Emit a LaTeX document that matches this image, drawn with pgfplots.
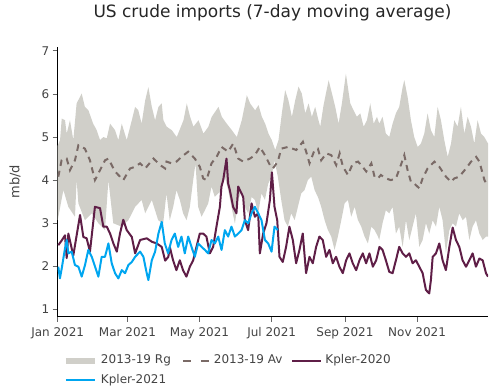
\documentclass[border=0pt]{standalone}
\usepackage{pgfplots}
\pgfplotsset{compat=1.18}
\usepackage{fontspec}
\setmainfont{DejaVu Sans}
\definecolor{bandgrey}{HTML}{D0CFC9}
\definecolor{avgcol}{HTML}{7A6A66}
\definecolor{k20}{HTML}{5F1E47}
\definecolor{k21}{HTML}{00A6F0}
\definecolor{txt}{HTML}{444444}
\begin{document}
\begin{tikzpicture}
\path (0bp,0bp) rectangle (493bp,391bp);
\begin{axis}[
  at={(57.7bp,74.3bp)}, anchor=south west,
  scale only axis, width=430.3bp, height=269.7bp,
  xmin=0, xmax=364, ymin=0.83, ymax=7.09,
  axis lines*=left,
  axis line style={black, line width=0.9bp},
  tick align=outside, major tick length=5bp,
  tick style={color=black!60, line width=0.8bp},
  xtick={0,59,120,181,243,304},
  xticklabels={Jan 2021,Mar 2021,May 2021,Jul 2021,Sep 2021,Nov 2021},
  ytick={1,2,3,4,5,6,7},
  /pgf/number format/assume math mode=true,
  ticklabel style={font=\fontsize{12bp}{14bp}\selectfont, text=txt},
  xticklabel style={yshift=-2bp},
  ylabel={mb/d},
  ylabel style={at={(axis description cs:-0.0992,0.5)}, anchor=center, font=\fontsize{13bp}{15bp}\selectfont, text=txt},
  legend columns=3,
  legend image code/.code={\draw[#1] (0bp,0bp) -- (29bp,0bp);},
  legend style={at={(axis description cs:0.0123,-0.142)}, anchor=north west, draw=none, fill=none,
    inner sep=0pt, outer sep=0pt, row sep=7.5bp,
    font=\fontsize{12bp}{14bp}\selectfont, text=txt,
    nodes={inner sep=0pt, text height=9bp, text depth=3bp},
    /tikz/every odd column/.append style={column sep=3bp},
    /tikz/every even column/.append style={column sep=9bp}},
  legend cell align=left,
]
% 2013-19 range: upper edge left to right, then lower edge right to left
\addplot[fill=bandgrey, draw=none, forget plot] table {
0 4.80
2 4.93
3.4 5.43
6.2 5.39
7.6 5.08
10.4 5.39
13.2 4.93
16 5.78
20.3 6.01
23 5.70
26 5.62
30 5.31
33 5.16
35.8 4.93
38.6 5.00
41.5 4.97
44.3 5.31
48.5 5.16
51.3 4.93
54.2 5.31
58.4 4.93
62.7 5.39
65.5 5.70
68.2 5.62
71 5.31
74 5.85
76.7 6.16
79.6 5.70
82.4 5.39
85.2 5.70
88 5.78
89.4 5.39
92.2 5.24
96.5 5.16
100.7 5.00
106.4 5.39
109.2 5.78
112 5.47
114.8 5.24
119.1 5.39
123.3 5.08
127.5 5.24
130.3 5.47
136 5.70
138.8 5.47
143 5.31
147.3 5.16
151.5 5.00
155.7 5.39
160 5.97
162.8 5.78
167 5.62
169.9 5.74
172.7 5.47
175.5 5.31
178.3 5.08
181.1 4.93
184 4.70
186.8 4.93
189.6 5.55
192.4 6.09
195.2 5.85
198.1 5.47
200.9 5.85
203.7 6.17
206.5 6.01
209.4 5.55
212.2 5.78
215 5.47
217.8 5.70
220.6 5.39
222.1 5.24
224.9 5.74
229.2 6.32
232 6.01
234.8 5.70
237.6 5.31
240.4 5.78
243.8 6.47
247.5 5.78
250.3 5.62
253.1 5.47
256 5.55
258.8 5.24
261.6 5.39
264.4 5.78
267.3 5.31
270.1 5.47
272 5.31
274.8 5.47
277.6 5.08
280.5 5.00
283.3 5.31
286.1 5.55
288.9 5.70
291.8 6.16
293.2 6.32
296 5.93
298.8 5.39
301.6 5.00
304.5 4.77
307.3 4.85
310.1 5.08
312.9 5.55
315.7 5.16
318.6 5.00
321.4 5.70
324.2 5.39
327 4.93
329.9 4.54
332.7 4.85
335.5 5.39
338.3 5.24
341.1 5.70
344 5.08
346.8 5.47
349.6 5.24
352.4 4.85
355.2 5.39
358.1 5.08
360.9 5.00
364 4.85
364 2.69
362.3 2.69
359.5 2.61
356.7 2.76
353.8 3.07
351 2.92
348.2 2.61
345.4 3.15
342.5 3.07
339.7 3.23
336.9 2.92
334.1 3.00
331.3 2.84
328.4 2.30
325.6 3.07
322.8 3.38
320 2.92
317.2 3.07
314.3 2.76
311.5 3.00
308.7 2.61
305.9 2.45
303 3.23
300.2 2.92
297.4 2.61
294.6 3.07
291.8 2.45
288.9 2.92
286.1 2.76
283.3 3.38
280.5 3.23
277.6 3.30
274.8 3.00
272 2.61
270.9 2.69
268.1 2.84
265.3 2.92
262.4 2.53
259.6 2.69
256.8 2.92
254 3.07
251.2 3.38
248.3 3.15
245.5 3.54
242.7 3.46
239.9 3.07
237 2.69
234.2 2.38
231.4 2.69
228.6 2.84
225.8 3.07
222.9 3.38
220.1 3.61
217.3 3.77
214.5 4.08
211.6 4.00
208.8 3.77
206 3.69
203.2 3.38
200.4 3.07
197.5 3.23
194.7 2.92
191.9 3.07
189.1 3.54
186.2 4.08
183.4 4.46
180.9 4.08
178.1 3.92
175.3 3.54
172.4 3.69
169.6 3.23
166.8 3.54
164 3.61
161.2 3.23
158.3 3.38
155.5 3.77
152.7 3.54
149.9 2.99
147 3.38
144.2 3.77
141.4 4.08
138.6 3.77
135.8 3.69
132.9 3.61
130.1 3.85
127.3 3.46
124.5 3.30
121.7 3.15
118.8 3.38
116.6 4.39
114.6 4.00
111.8 3.38
109 3.07
106.1 3.23
103.3 3.54
100.5 3.77
97.7 3.38
94.8 3.07
92 3.69
89.2 2.99
85 3.07
79.6 3.54
74 3.23
71 3.54
65.5 3.38
59.8 3.07
54 2.92
47 3.00
42.9 4.00
40 2.84
34.4 3.00
28.8 3.23
23 3.07
17.5 3.46
16 4.00
14.6 3.15
9 3.38
4.8 3.77
0 3.07
};

% 2013-19 average
\addplot[avgcol, line width=2bp, dash pattern=on 6bp off 5bp, forget plot] table {
0.5 4.08
3.3 4.46
7.6 4.50
10.4 4.23
14.6 4.46
17.5 4.81
23 4.73
27.3 4.46
31.5 4.00
35.8 4.23
40 4.46
42.9 4.50
48.5 4.20
55.5 4.00
61.2 4.27
65.5 4.31
69.7 4.39
74 4.27
81 4.50
86.6 4.35
90.9 4.27
92 4.43
96.3 4.39
100.5 4.43
104.7 4.54
110.4 4.66
116 4.50
120.2 4.31
123.1 4.04
125.9 4.00
130.1 4.39
134.4 4.54
138.6 4.77
144.2 4.66
148.5 4.85
152.7 4.50
156.9 4.43
162.6 4.50
166.8 4.58
171 4.77
175.3 4.58
179.5 4.35
182 4.27
186.2 4.43
189.1 4.73
194.7 4.77
201.8 4.70
207.4 4.89
210.2 4.66
213 4.39
217.3 4.70
220.1 4.73
222.9 4.46
227.2 4.62
231.4 4.58
235.6 4.35
238.5 4.62
241.3 4.31
245.5 4.12
249.7 4.39
254 4.43
256.8 4.35
261 4.20
265.3 4.39
268.1 4.07
270.9 4.04
273.4 4.12
277.6 4.04
281.9 4.00
286.1 4.04
290.3 4.35
293.2 4.58
296 4.23
298.8 3.96
301.6 3.92
305.9 3.81
308.7 4.04
312.9 4.27
318.6 4.43
322.8 4.31
328.4 4.08
332.7 3.96
335.5 4.04
339.7 4.08
345.4 4.27
349.7 4.43
354 4.54
356.7 4.43
361 4.00
363.7 3.85
};

% Kpler-2020
\addplot[k20, line width=2bp, line join=round, forget plot] table {
0.5 2.49
3.4 2.60
6.2 2.72
7.6 2.19
9 2.76
13.2 2.25
18.9 3.19
21.7 2.68
24.5 2.65
27.3 2.34
31.5 3.38
35.8 3.35
38.6 2.92
41.5 2.92
44.3 2.76
47.1 2.53
50 2.34
52.7 2.76
55.5 3.08
58.4 2.84
62.7 2.68
65.5 2.30
69.7 2.61
75.3 2.65
79.6 2.57
83.8 2.53
88 2.45
90.9 2.13
93.6 2.22
94.8 2.45
97.6 2.14
100.4 1.91
103.3 2.14
106 1.91
108.9 1.76
111.8 1.99
114.6 2.14
117.4 2.45
120.2 2.76
123 2.76
125.8 2.69
128.7 2.30
131.5 2.45
134.3 2.92
137.2 3.38
138.5 3.85
140 4.00
142.8 4.50
144.2 3.92
145.6 3.77
148.4 3.38
151.2 3.23
152.7 3.85
154.1 3.77
156.9 3.61
158.3 3.07
161.1 2.84
164 3.46
166.8 3.15
169.6 3.23
171 2.30
173.8 2.76
176.6 3.00
179.5 3.54
181.2 4.18
183.4 3.38
185.7 3.07
187.6 2.22
190.4 2.10
193.2 2.45
196 2.92
198.9 2.61
201.7 2.07
204.5 2.38
207.3 2.76
210.1 1.84
213 2.22
215.8 2.07
218.6 2.45
221.4 2.69
224.2 2.61
227.1 2.22
229.9 2.38
232.7 2.07
235.5 2.22
238.3 1.99
241.2 1.84
244 2.14
246.8 2.30
249.6 2.07
252.5 1.91
255.3 2.14
258.1 2.30
260.9 2.07
263.7 2.30
266.6 1.99
269.4 2.14
272.2 2.45
274.8 2.38
277.6 2.14
280.5 1.87
283.3 1.84
286.1 2.14
288.9 2.45
291.8 2.30
294.6 2.22
297.4 2.30
300.2 2.07
303 2.14
305.9 1.99
308.7 1.84
311.5 1.45
314.3 1.37
315.7 1.68
317.2 2.22
320 2.30
322.8 2.53
325.6 2.14
328.4 1.91
331.3 2.45
334.1 2.90
336.9 2.61
339.7 2.45
342.5 2.14
345.4 1.99
348.2 2.14
351 2.30
353.8 1.99
356.7 2.18
359.5 2.14
362.3 1.84
364 1.76
};

% Kpler-2021
\addplot[k21, line width=2bp, line join=round, forget plot] table {
0.5 1.99
1.9 1.72
3.4 1.95
6.2 2.42
7.6 2.61
9 2.30
11.8 2.34
14.6 2.03
17.5 1.99
20.3 1.76
23.1 2.03
25.9 2.38
28.8 2.22
31.6 1.99
34.4 1.76
37.2 2.22
40 2.22
42.9 2.53
45.7 2.07
48.5 1.84
51.3 1.72
54.2 1.91
57 1.84
59.8 2.03
62.7 2.10
65.5 2.22
69.7 2.34
72.5 2.22
75.3 1.84
76.7 1.68
79.6 2.14
82.4 2.34
85.2 2.76
88 3.03
90.6 2.53
93.4 2.30
96.3 2.61
99.1 2.76
101.9 2.45
104.7 2.69
107.5 2.30
110.4 2.69
113.2 2.45
116 2.22
118.8 2.53
121.7 2.45
124.5 2.38
127.3 2.30
130.1 2.61
132.9 2.53
135.8 2.69
138.6 2.38
141.4 2.84
144.2 2.69
147 2.92
149.9 2.69
152.7 2.76
155.5 2.84
158.3 3.07
161.2 3.00
164 3.23
166.8 3.38
169.6 3.23
172.4 3.07
175.3 2.61
178.1 2.53
180.9 2.34
183.4 2.92
186.2 2.84
};

\addlegendimage{bandgrey, line width=6bp}
\addlegendentry{2013-19 Rg}
\addlegendimage{avgcol, line width=2bp, dash pattern=on 0bp off 2bp on 8bp off 10bp on 8bp off 10bp}
\addlegendentry{2013-19 Av}
\addlegendimage{k20, line width=2bp}
\addlegendentry{Kpler-2020}
\addlegendimage{k21, line width=2bp}
\addlegendentry{Kpler-2021}
\end{axis}
\node[anchor=base, font=\fontsize{17bp}{20bp}\selectfont, text=black!85] at (272.5bp,373.7bp) {US crude imports (7-day moving average)};
\end{tikzpicture}
\end{document}
